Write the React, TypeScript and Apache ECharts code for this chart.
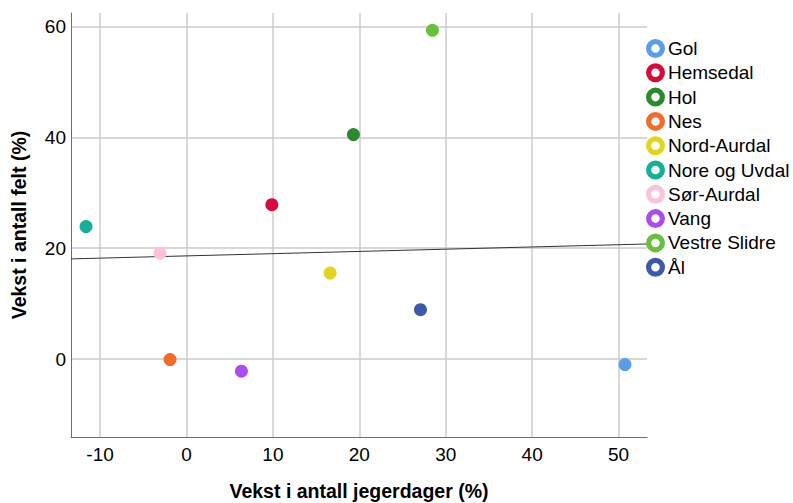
import React, { useEffect, useRef } from "react";
import * as echarts from "echarts";

const municipalities = ["Gol", "Hemsedal", "Hol", "Nes", "Nord-Aurdal", "Nore og Uvdal", "Sør-Aurdal", "Vang", "Vestre Slidre", "Ål"];
const jegerdagerGrowth = [50.74, 9.88, 19.32, -1.9, 16.62, -11.62, -3.06, 6.36, 28.46, 27.08];
const feltGrowth = [-1.0, 27.84, 40.5, -0.1, 15.5, 23.9, 19.1, -2.2, 59.3, 8.9];
const colors = ["#5a9de8", "#d80a3c", "#2b8a2b", "#f46b2a", "#e4d51c", "#13b09a", "#fbc1dd", "#ab4cf2", "#66c23d", "#3c5aa9"];
const xRange = [-13.36, 53.29];
const yRange = [-14.07, 62.42];

const FONT = "'Liberation Sans', Arial, Helvetica, sans-serif";
const RING = "path://M10,0A10,10,0,1,1,10,20A10,10,0,1,1,10,0ZM10,5.5A4.5,4.5,0,1,0,10,14.5A4.5,4.5,0,1,0,10,5.5Z";

function fitLine(xs: number[], ys: number[]) {
  const n = xs.length;
  const mx = xs.reduce((a, b) => a + b, 0) / n;
  const my = ys.reduce((a, b) => a + b, 0) / n;
  let sxy = 0, sxx = 0;
  for (let i = 0; i < n; i++) {
    sxy += (xs[i] - mx) * (ys[i] - my);
    sxx += (xs[i] - mx) * (xs[i] - mx);
  }
  const slope = sxy / sxx;
  const intercept = my - slope * mx;
  return (x: number) => intercept + slope * x;
}

export default function App() {
  const ref = useRef<HTMLDivElement>(null);
  useEffect(() => {
    if (!ref.current) return;
    const chart = echarts.init(ref.current, null, { renderer: "svg" });
    const f = fitLine(jegerdagerGrowth, feltGrowth);
    const scatterSeries = municipalities.map((name, i) => ({
      type: "scatter",
      name,
      data: [[jegerdagerGrowth[i], feltGrowth[i]]],
      symbolSize: 13,
      itemStyle: { color: colors[i], opacity: 1 },
      z: 3,
    }));
    chart.setOption({
      animation: false,
      backgroundColor: "#ffffff",
      grid: { left: 71, right: 146, top: 13, bottom: 66, containLabel: false, outerBoundsMode: "none" },
      legend: {
        orient: "vertical",
        left: 646,
        top: 39,
        itemWidth: 19,
        itemHeight: 19,
        itemGap: 5.3,
        padding: 0,
        textStyle: { fontFamily: FONT, fontSize: 19, color: "#000", padding: [0, 0, 0, -2] },
        data: municipalities.map((name, i) => ({ name, icon: RING, itemStyle: { color: colors[i] } })),
      },
      xAxis: {
        type: "value",
        min: xRange[0],
        max: xRange[1],
        splitNumber: 6,
        minInterval: 10,
        maxInterval: 10,
        name: "Vekst i antall jegerdager (%)",
        nameLocation: "middle",
        nameGap: 44,
        nameTextStyle: { fontFamily: FONT, fontSize: 19.5, fontWeight: "bold", color: "#000" },
        axisLine: { show: true, onZero: false, lineStyle: { color: "#6e6e6e", width: 1 } },
        axisTick: { show: false },
        axisLabel: { fontFamily: FONT, fontSize: 19, color: "#000", margin: 8, showMinLabel: false, showMaxLabel: false },
        splitLine: { show: true, showMinLine: false, showMaxLine: false, lineStyle: { color: "#cdcdcd", width: 1.5 } },
      },
      yAxis: {
        type: "value",
        min: yRange[0],
        max: yRange[1],
        splitNumber: 4,
        minInterval: 20,
        maxInterval: 20,
        name: "Vekst i antall felt (%)",
        nameLocation: "middle",
        nameGap: 42,
        nameRotate: 90,
        nameTextStyle: { fontFamily: FONT, fontSize: 19.5, fontWeight: "bold", color: "#000" },
        axisLine: { show: true, onZero: false, lineStyle: { color: "#6e6e6e", width: 1 } },
        axisTick: { show: false },
        axisLabel: { fontFamily: FONT, fontSize: 19, color: "#000", margin: 5, showMinLabel: false, showMaxLabel: false },
        splitLine: { show: true, showMinLine: false, showMaxLine: false, lineStyle: { color: "#d8d8d8", width: 2 } },
      },
      series: [
        {
          type: "line",
          name: "fit",
          data: [
            [xRange[0], f(xRange[0])],
            [xRange[1], f(xRange[1])],
          ],
          symbol: "none",
          silent: true,
          lineStyle: { color: "#333333", width: 1 },
          z: 2,
        },
        ...scatterSeries,
      ],
    });
    return () => chart.dispose();
  }, []);
  return <div ref={ref} style={{ position: "fixed", left: 0, top: 0, width: 793, height: 503 }} />;
}
